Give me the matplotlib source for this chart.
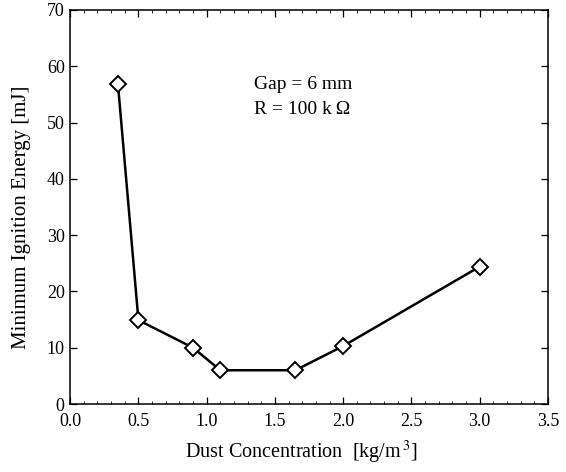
import matplotlib.pyplot as plt
import matplotlib.transforms as mtransforms
from matplotlib.ticker import MultipleLocator

# dust concentration [kg/m^3] vs minimum ignition energy [mJ]
concentration = [0.35, 0.5, 0.9, 1.1, 1.65, 2.0, 3.0]
mie = [56.8, 14.9, 10.0, 6.0, 6.0, 10.3, 24.4]

plt.rcParams["font.family"] = ["Liberation Serif", "DejaVu Serif"]
plt.rcParams["mathtext.fontset"] = "stix"

fig = plt.figure(figsize=(5.66, 4.72), dpi=100)
ax = fig.add_axes([0.124, 0.144, 0.844, 0.835])

ax.plot(concentration, mie, color="black", lw=1.8, marker="D", ms=8.5,
        mfc="white", mec="black", mew=1.4, zorder=3)

ax.set_xlim(0, 3.5)
ax.set_ylim(0, 70)
ax.xaxis.set_major_locator(MultipleLocator(0.5))
ax.xaxis.set_minor_locator(MultipleLocator(0.1))
ax.yaxis.set_major_locator(MultipleLocator(10))
ax.xaxis.set_major_formatter(plt.FormatStrFormatter("%.1f"))
ax.tick_params(which="both", direction="in", top=True, right=True,
               labelsize=13, width=0.9)
ax.tick_params(which="major", length=5)
ax.tick_params(axis="x", which="major", pad=6.5)
ax.tick_params(axis="y", which="major", pad=4)
ax.tick_params(which="minor", length=2, width=0.6)
for s in ax.spines.values():
    s.set_linewidth(1.1)

# nudge the y "0" up a little so it clears the x "0.0", as in the original
fig.canvas.draw()
zero_lbl = ax.yaxis.get_majorticklabels()[0]
zero_lbl.set_transform(zero_lbl.get_transform() +
                       mtransforms.ScaledTranslation(0, 3 / 72, fig.dpi_scale_trans))

ax.set_xlabel("Dust Concentration  [kg/m$^{\\,3}$]", fontsize=14.5)
ax.set_ylabel("Minimum Ignition Energy [mJ]", fontsize=15)
ax.xaxis.set_label_coords(0.484, -0.088)
ax.yaxis.set_label_coords(-0.083, 0.475)

ax.text(1.35, 56.8, "Gap = 6 mm", fontsize=14, va="center")
ax.text(1.35, 52.4, "R = 100 k\u2009\u03a9", fontsize=14, va="center")

fig.savefig("out.png", dpi=100)
